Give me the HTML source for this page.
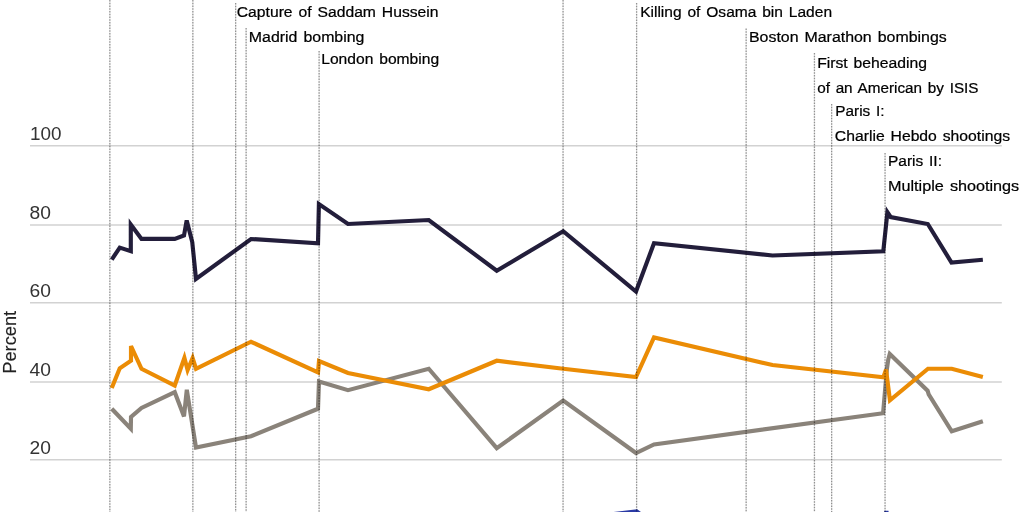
<!DOCTYPE html>
<html lang="en">
<head>
<meta charset="utf-8">
<title>Chart</title>
<style>
html,body{margin:0;padding:0;background:#fff;}
body{width:1024px;height:512px;overflow:hidden;}
svg{display:block;}
text{font-family:"Liberation Sans",sans-serif;}
.lbl{font-size:15.2px;word-spacing:1.5px;fill:#000;stroke:#000;stroke-width:0.22px;}
.tick{font-size:17.5px;fill:#333;}
.axis{font-size:17.6px;fill:#222;stroke:#222;stroke-width:0.15px;}
.grid line{stroke:#d2d2d2;stroke-width:1.4;}
.ev line{stroke:#000;stroke-width:1.3;stroke-dasharray:1.375 1.375;stroke-opacity:0.38;}
.ev line.u{stroke-dasharray:none;stroke-opacity:0.07;}
.s{fill:none;stroke-width:4.15;stroke-linejoin:miter;stroke-miterlimit:4;stroke-linecap:butt;}
</style>
</head>
<body>
<svg width="1024" height="512" viewBox="0 0 1024 512">
<rect width="1024" height="512" fill="#ffffff"/>
<g class="grid">
<line x1="30.0" y1="145.70" x2="1001.8" y2="145.70"/>
<line x1="30.0" y1="225.00" x2="1001.8" y2="225.00"/>
<line x1="30.0" y1="302.70" x2="1001.8" y2="302.70"/>
<line x1="30.0" y1="382.00" x2="1001.8" y2="382.00"/>
<line x1="30.0" y1="459.70" x2="1001.8" y2="459.70"/>
</g>
<g class="series">
<polyline class="s" stroke="#8a837a" points="111.75,408.75 130.80,428.75 131.00,417.00 141.50,408.00 174.75,392.20 184.00,416.40 186.80,389.80 196.00,447.50 251.00,436.25 318.00,408.75 319.00,381.50 348.00,390.20 428.75,368.75 496.75,448.20 563.20,400.60 636.00,453.00 654.00,444.40 883.10,413.20 886.90,369.00 888.30,359.30 889.75,354.00 927.60,390.70 928.70,394.30 951.75,431.25 982.85,421.25"/>
<polyline class="s" stroke="#eb8c05" points="111.75,388.00 119.75,368.25 131.00,360.70 131.00,346.00 141.50,368.75 174.75,385.50 184.40,357.80 187.60,370.00 192.60,358.00 196.00,368.75 251.00,341.75 318.00,372.50 319.00,361.00 348.00,373.00 428.75,389.25 496.75,360.75 563.20,368.75 636.00,377.00 654.00,337.50 772.50,365.00 883.40,377.20 886.00,369.60 889.95,400.30 928.00,368.75 951.75,368.75 982.85,377.00"/>
<polyline class="s" stroke="#231e3b" points="111.75,259.60 119.75,247.60 130.80,251.20 130.80,224.50 141.50,238.90 174.75,238.90 184.00,235.50 186.70,220.40 192.25,242.00 196.00,279.00 251.00,239.00 318.00,243.30 318.90,204.10 348.00,224.00 428.75,220.00 496.75,270.75 563.20,231.25 636.00,291.50 654.00,243.25 772.50,255.50 883.30,251.30 887.40,212.20 890.60,217.00 927.80,224.00 951.50,262.50 982.85,259.75"/>
<polyline class="s" stroke="#2a3aa5" points="563.20,520.20 636.60,511.30 654.00,524.50 883.00,527.00 886.40,511.20 889.75,531.00"/>
</g>
<g class="ev">
<line x1="109.85" y1="0" x2="109.85" y2="512"/>
<line class="u" x1="109.85" y1="0" x2="109.85" y2="512"/>
<line x1="192.85" y1="0" x2="192.85" y2="512"/>
<line class="u" x1="192.85" y1="0" x2="192.85" y2="512"/>
<line x1="235.65" y1="3" x2="235.65" y2="512"/>
<line class="u" x1="235.65" y1="3" x2="235.65" y2="512"/>
<line x1="246.12" y1="28.0" x2="246.12" y2="512"/>
<line class="u" x1="246.12" y1="28.0" x2="246.12" y2="512"/>
<line x1="319.1" y1="51" x2="319.1" y2="512"/>
<line class="u" x1="319.1" y1="51" x2="319.1" y2="512"/>
<line x1="563.05" y1="0" x2="563.05" y2="512"/>
<line class="u" x1="563.05" y1="0" x2="563.05" y2="512"/>
<line x1="636.6" y1="3" x2="636.6" y2="512"/>
<line class="u" x1="636.6" y1="3" x2="636.6" y2="512"/>
<line x1="746.15" y1="28.5" x2="746.15" y2="512"/>
<line class="u" x1="746.15" y1="28.5" x2="746.15" y2="512"/>
<line x1="814.45" y1="53" x2="814.45" y2="512"/>
<line class="u" x1="814.45" y1="53" x2="814.45" y2="512"/>
<line x1="831.65" y1="104" x2="831.65" y2="512"/>
<line class="u" x1="831.65" y1="104" x2="831.65" y2="512"/>
<line x1="885.05" y1="153" x2="885.05" y2="512"/>
<line class="u" x1="885.05" y1="153" x2="885.05" y2="512"/>
</g>
<g class="ticks">
<text class="tick" x="30.10" y="139.90" textLength="31.50" lengthAdjust="spacingAndGlyphs">100</text>
<text class="tick" x="29.50" y="219.00" textLength="21.40" lengthAdjust="spacingAndGlyphs">80</text>
<text class="tick" x="29.50" y="297.00" textLength="21.40" lengthAdjust="spacingAndGlyphs">60</text>
<text class="tick" x="29.50" y="375.90" textLength="21.40" lengthAdjust="spacingAndGlyphs">40</text>
<text class="tick" x="29.50" y="453.80" textLength="21.40" lengthAdjust="spacingAndGlyphs">20</text>
</g>
<text class="axis" transform="translate(16.1 373.7) rotate(-90)" textLength="62.8" lengthAdjust="spacingAndGlyphs">Percent</text>
<g class="labels">
<text class="lbl" x="236.75" y="16.90" textLength="201.80" lengthAdjust="spacingAndGlyphs">Capture of Saddam Hussein</text>
<text class="lbl" x="248.85" y="41.90" textLength="115.60" lengthAdjust="spacingAndGlyphs">Madrid bombing</text>
<text class="lbl" x="321.25" y="63.80" textLength="117.90" lengthAdjust="spacingAndGlyphs">London bombing</text>
<text class="lbl" x="640.15" y="16.90" textLength="191.90" lengthAdjust="spacingAndGlyphs">Killing of Osama bin Laden</text>
<text class="lbl" x="749.00" y="41.90" textLength="197.70" lengthAdjust="spacingAndGlyphs">Boston Marathon bombings</text>
<text class="lbl" x="817.15" y="67.80" textLength="109.90" lengthAdjust="spacingAndGlyphs">First beheading</text>
<text class="lbl" x="817.15" y="92.50" textLength="161.40" lengthAdjust="spacingAndGlyphs">of an American by ISIS</text>
<text class="lbl" x="835.25" y="115.90" textLength="49.30" lengthAdjust="spacingAndGlyphs">Paris I:</text>
<text class="lbl" x="834.85" y="140.90" textLength="175.20" lengthAdjust="spacingAndGlyphs">Charlie Hebdo shootings</text>
<text class="lbl" x="888.00" y="165.90" textLength="53.95" lengthAdjust="spacingAndGlyphs">Paris II:</text>
<text class="lbl" x="888.00" y="190.90" textLength="131.20" lengthAdjust="spacingAndGlyphs">Multiple shootings</text>
</g>
</svg>
</body>
</html>
